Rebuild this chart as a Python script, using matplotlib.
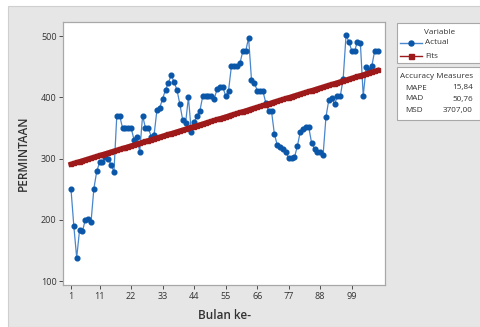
import matplotlib
matplotlib.use('Agg')
import matplotlib.pyplot as plt
from matplotlib.patches import Rectangle
from matplotlib.lines import Line2D
import numpy as np

# data (monthly demand, 108 months)
bulan = list(range(1, 109))
permintaan = [251, 190, 138, 183, 181, 200, 201, 196, 251, 279,
              294, 294, 302, 300, 290, 278, 370, 370, 350, 350,
              350, 350, 331, 336, 311, 370, 350, 350, 336, 338,
              379, 383, 398, 412, 424, 436, 425, 412, 389, 363,
              358, 400, 344, 360, 370, 378, 402, 402, 402, 402,
              398, 413, 417, 417, 402, 411, 451, 451, 451, 456,
              476, 476, 497, 429, 424, 411, 411, 410, 391, 377,
              377, 340, 322, 319, 316, 310, 301, 301, 302, 320,
              343, 349, 351, 351, 325, 316, 311, 310, 306, 368,
              396, 399, 389, 402, 402, 430, 501, 491, 476, 476,
              491, 489, 402, 449, 445, 451, 476, 476]
xticks = [1, 11, 22, 33, 44, 55, 66, 77, 88, 99]
yticks = [100, 200, 300, 400, 500]
akurasi_label = ['MAPE', 'MAD', 'MSD']
akurasi_nilai = ['15,84', '50,76', '3707,00']

# linear trend (Minitab trend analysis)
b, a = np.polyfit(bulan, permintaan, 1)
fits = [a + b * t for t in bulan]

plt.rcParams['font.family'] = ['Open Sans', 'DejaVu Sans']
txt = '#333333'
W, H = 481, 327

fig = plt.figure(figsize=(W / 100, H / 100), dpi=100)
fig.patch.set_facecolor('white')
fig.patches.append(Rectangle((8 / W, 0), 1, 1 - 6 / H, transform=fig.transFigure,
                             facecolor='#e6e6e6', edgecolor='#cfcfcf', lw=0.8, zorder=-10))

ax = fig.add_axes([63.5 / W, 1 - 285 / H, (385 - 63.5) / W, (285 - 22) / H])
ax.set_facecolor('white')
ax.plot(bulan, permintaan, color='#4a86cc', lw=0.9, marker='o', ms=3.4,
        mfc='#0a56a8', mec='#0a56a8', zorder=3)
ax.plot(bulan, fits, color='#9e1a1a', lw=3.6, marker='s', ms=2.4,
        mfc='#9e1a1a', mec='#9e1a1a', zorder=4)

ax.set_xlim(-1.6, 110.6)
ax.set_ylim(93.5, 523)
ax.set_xticks(xticks)
ax.set_yticks(yticks)
ax.tick_params(labelsize=6.5, colors=txt, length=3, width=0.6, pad=2)
for s in ax.spines.values():
    s.set_color('#a8a8a8')
    s.set_linewidth(0.9)
ax.set_xlabel('Bulan ke-', fontsize=8.5, color=txt, labelpad=6, fontweight='semibold')
ax.set_ylabel('PERMINTAAN', fontsize=8.5, color=txt, labelpad=8, fontweight='semibold')

# legend box
def box(x0, y0, x1, y1):
    fig.patches.append(Rectangle((x0 / W, 1 - y1 / H), (x1 - x0) / W, (y1 - y0) / H,
                                 transform=fig.transFigure, facecolor='white',
                                 edgecolor='#a8a8a8', lw=0.8, zorder=1))

fs = 5.9
box(397, 23, 480, 63)
fig.text(440 / W, 1 - 32 / H, 'Variable', fontsize=fs, color=txt, ha='center', va='center')
fig.lines.append(Line2D([400 / W, 422 / W], [1 - 43 / H] * 2, transform=fig.transFigure,
                        color='#4a86cc', lw=1.0, zorder=2))
fig.lines.append(Line2D([411 / W], [1 - 43 / H], transform=fig.transFigure,
                        color='#0a56a8', marker='o', ms=3.6, zorder=3))
fig.text(425 / W, 1 - 43 / H, 'Actual', fontsize=fs, color=txt, va='center')
fig.lines.append(Line2D([400 / W, 422 / W], [1 - 56 / H] * 2, transform=fig.transFigure,
                        color='#9e1a1a', lw=1.0, zorder=2))
fig.lines.append(Line2D([411 / W], [1 - 56 / H], transform=fig.transFigure,
                        color='#9e1a1a', marker='s', ms=3.6, zorder=3))
fig.text(425 / W, 1 - 56 / H, 'Fits', fontsize=fs, color=txt, va='center')

box(397, 67, 480, 120)
fig.text(400 / W, 1 - 76.5 / H, 'Accuracy Measures', fontsize=fs, color=txt, va='center')
for k, (lab, val) in enumerate(zip(akurasi_label, akurasi_nilai)):
    yy = 1 - (88 + 11 * k) / H
    fig.text(405 / W, yy, lab, fontsize=fs, color=txt, va='center')
    fig.text(473 / W, yy, val, fontsize=fs, color=txt, va='center', ha='right')

fig.savefig('out.png', dpi=100)
